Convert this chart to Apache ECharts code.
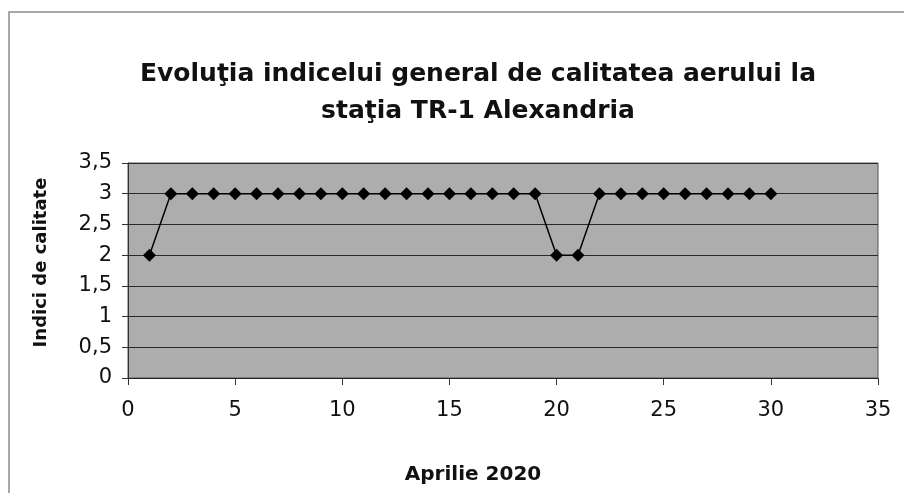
<!DOCTYPE html>
<html>
<head>
<meta charset="utf-8">
<script src="https://cdn.jsdelivr.net/npm/echarts@6/dist/echarts.min.js"></script>
<style>
  html, body { margin: 0; padding: 0; background: #fff; }
  #chart { width: 904px; height: 493px; }
</style>
</head>
<body>
<div id="chart"></div>
<script>
  // zilele din aprilie si indicele general
  const days = [1, 2, 3, 4, 5, 6, 7, 8, 9, 10, 11, 12, 13, 14, 15, 16, 17, 18, 19, 20, 21, 22, 23, 24, 25, 26, 27, 28, 29, 30];
  const indexValues = [2, 3, 3, 3, 3, 3, 3, 3, 3, 3, 3, 3, 3, 3, 3, 3, 3, 3, 3, 2, 2, 3, 3, 3, 3, 3, 3, 3, 3, 3];

  const titleLines = ['Evoluţia indicelui general de calitatea aerului la', 'staţia TR-1 Alexandria'];
  const font = '"DejaVu Sans", Arial, sans-serif';

  const chart = echarts.init(document.getElementById('chart'));

  chart.setOption({
    animation: false,
    backgroundColor: '#fff',
    graphic: [{
      type: 'rect',
      shape: { x: 9, y: 12, width: 900, height: 490 },
      style: { fill: 'none', stroke: '#8a8a8a', lineWidth: 1.5 }
    }],
    title: {
      text: titleLines.join('\n'),
      left: 473,
      textAlign: 'center',
      top: 51,
      textStyle: {
        fontFamily: font,
        fontSize: 25,
        fontWeight: 'bold',
        color: '#111',
        lineHeight: 37
      }
    },
    grid: {
      left: 128,
      right: 26,
      top: 163,
      bottom: 115,
      show: true,
      backgroundColor: '#adadad',
      borderColor: '#555',
      borderWidth: 1
    },
    xAxis: {
      type: 'value',
      min: 0,
      max: 35,
      interval: 5,
      name: 'Aprilie 2020',
      nameLocation: 'middle',
      nameGap: 87,
      nameTextStyle: { fontFamily: font, fontSize: 20, fontWeight: 'bold', color: '#111', padding: [0, 60, 0, 0] },
      axisLine: { lineStyle: { color: '#222', width: 1 } },
      axisTick: { show: true, inside: false, length: 7, lineStyle: { color: '#333' } },
      axisLabel: { fontFamily: font, fontSize: 21, color: '#111', margin: 22 },
      splitLine: { show: false }
    },
    yAxis: {
      type: 'value',
      min: 0,
      max: 3.5,
      interval: 0.5,
      name: 'Indici de calitate',
      nameLocation: 'middle',
      nameRotate: 90,
      nameGap: 78,
      nameTextStyle: { fontFamily: font, fontSize: 18, fontWeight: 'bold', color: '#111', padding: [0, 0, 0, 16] },
      axisLine: { show: true, lineStyle: { color: '#333' } },
      axisTick: { show: true, length: 6, lineStyle: { color: '#333' } },
      axisLabel: {
        fontFamily: font,
        fontSize: 21,
        color: '#111',
        margin: 16,
        formatter: v => String(v).replace('.', ',')
      },
      splitLine: { show: true, lineStyle: { color: '#2a2a2a', width: 1 } }
    },
    series: [{
      type: 'line',
      data: days.map((d, i) => [d, indexValues[i]]),
      symbol: 'diamond',
      symbolSize: 13,
      itemStyle: { color: '#000' },
      lineStyle: { color: '#000', width: 1.5 }
    }]
  });
</script>
</body>
</html>
